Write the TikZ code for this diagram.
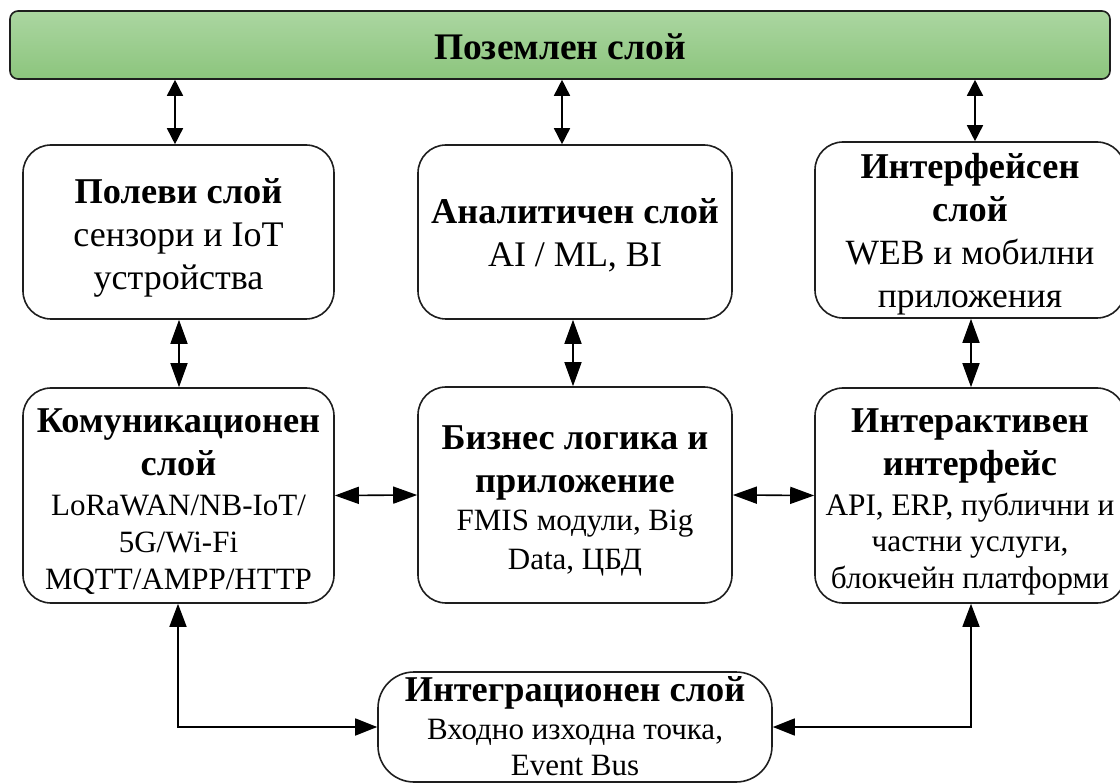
\documentclass[tikz,border=0pt]{standalone}
\usepackage{fontspec}
\setmainfont{Liberation Serif}
\usetikzlibrary{arrows.meta,calc}
\definecolor{gtop}{HTML}{ABD6A1}
\definecolor{gbot}{HTML}{8CC57D}
\definecolor{edge}{HTML}{1E1E1E}
\newcommand\Bt{\fontsize{36.3}{43}\selectfont\bfseries}
\newcommand\Nt[1]{\fontsize{#1}{#1}\selectfont}
\tikzset{
  layer/.style={draw=edge, line width=1.6pt, rounded corners=28pt, fill=white, inner sep=0pt},
  ltext/.style={align=center, inner sep=0pt, font=\fontsize{36}{43}\selectfont},
  topbar/.style={draw=edge, line width=1.6pt, rounded corners=8pt,
    top color=gtop, bottom color=gbot, inner sep=0pt},
  biS/.style={line width=1.6pt, {Triangle[length=16pt,width=16pt]}-{Triangle[length=16pt,width=16pt]}},
  biL/.style={line width=1.6pt, {Triangle[length=24pt,width=17pt]}-{Triangle[length=24pt,width=17pt]}},
  biB/.style={line width=1.6pt, {Triangle[length=23pt,width=17pt]}-{Triangle[length=22pt,width=17pt]}},
}
\begin{document}
\begin{tikzpicture}[x=1pt,y=-1pt]
\clip (0,0) rectangle (1120,783);
\fill[white] (0,0) rectangle (1120,783);

\node[topbar, minimum width=1100pt, minimum height=68pt] (top) at (560,45) {};
\node[inner sep=0pt, font=\fontsize{37.5}{43}\selectfont\bfseries] (top-t) at (560,47) {Поземлен слой};

\node[layer, minimum width=311pt, minimum height=174pt] (polevi) at (178.5,232) {};
\node[ltext] (polevi-t) at ($(polevi.center)+(0,6)$)
  {\Bt Полеви слой\\ \Nt{36}сензори и IoT\\ \Nt{36}устройства};

\node[layer, minimum width=314pt, minimum height=174pt] (analit) at (575,232) {};
\node[ltext] (analit-t) at ($(analit.center)+(0,3)$)
  {\Bt Аналитичен слой\\ \Nt{36}AI / ML, BI};

\node[layer, minimum width=310pt, minimum height=176pt] (interf) at (970,230) {};
\node[ltext] (interf-t) at ($(interf.center)+(0,4)$)
  {\Bt Интерфейсен\\ \Bt слой\\ \Nt{35.5}WEB и мобилни\\ \Nt{35.5}приложения};

\node[layer, minimum width=311pt, minimum height=215pt] (komun) at (178.5,495.5) {};
\node[ltext] (komun-t) at ($(komun.center)+(0,6)$)
  {\Bt Комуникационен\\ \Bt слой\\[-3pt] \Nt{31}LoRaWAN/NB-IoT/\\[-6pt] \Nt{31}5G/Wi-Fi\\[-6pt] \Nt{31}MQTT/AMPP/HTTP};

\node[layer, minimum width=314pt, minimum height=216pt] (biznes) at (575,495) {};
\node[ltext] (biznes-t) at ($(biznes.center)+(0,6)$)
  {\Bt Бизнес логика и\\ \Bt приложение\\[-5pt] \Nt{31}FMIS модули, Big\\[-4pt] \Nt{31}Data, ЦБД};

\node[layer, minimum width=310pt, minimum height=215pt] (interakt) at (970,495.5) {};
\node[ltext] (interakt-t) at ($(interakt.center)+(0,6)$)
  {\Bt Интерактивен\\ \Bt интерфейс\\[-3pt] \Nt{31.3}API, ERP, публични и\\[-7pt] \Nt{31.3}частни услуги,\\[-6pt] \Nt{31.3}блокчейн платформи};

\node[layer, rounded corners=36pt, minimum width=394pt, minimum height=110pt] (integr) at (575,727) {};
\node[ltext] (integr-t) at ($(integr.center)+(0,-1)$)
  {\Bt Интеграционен слой\\[-5pt] \Nt{31}Входно изходна точка,\\[-7pt] \Nt{31}Event Bus};

\coordinate (a1) at (175,0);
\coordinate (a2) at (562,0);
\coordinate (a3) at (975,0);
\coordinate (b1) at (179,0);
\coordinate (b2) at (573,0);
\coordinate (b3) at (971,0);
\coordinate (c1) at (178,0);
\coordinate (c3) at (971,0);

\draw[biS] (top.south -| a1) -- (polevi.north -| a1);
\draw[biS] (top.south -| a2) -- (analit.north -| a2);
\draw[biS] (top.south -| a3) -- (interf.north -| a3);

\draw[biL] (polevi.south -| b1) -- (komun.north -| b1);
\draw[biL] (analit.south -| b2) -- (biznes.north -| b2);
\draw[biL] (interf.south -| b3) -- (interakt.north -| b3);

\draw[biL] (komun.east) -- (biznes.west);
\draw[biL] (biznes.east) -- (interakt.west);

\draw[biB] (komun.south -| c1) |- (integr.west);
\draw[biB] (interakt.south -| c3) |- (integr.east);
\end{tikzpicture}
\end{document}
